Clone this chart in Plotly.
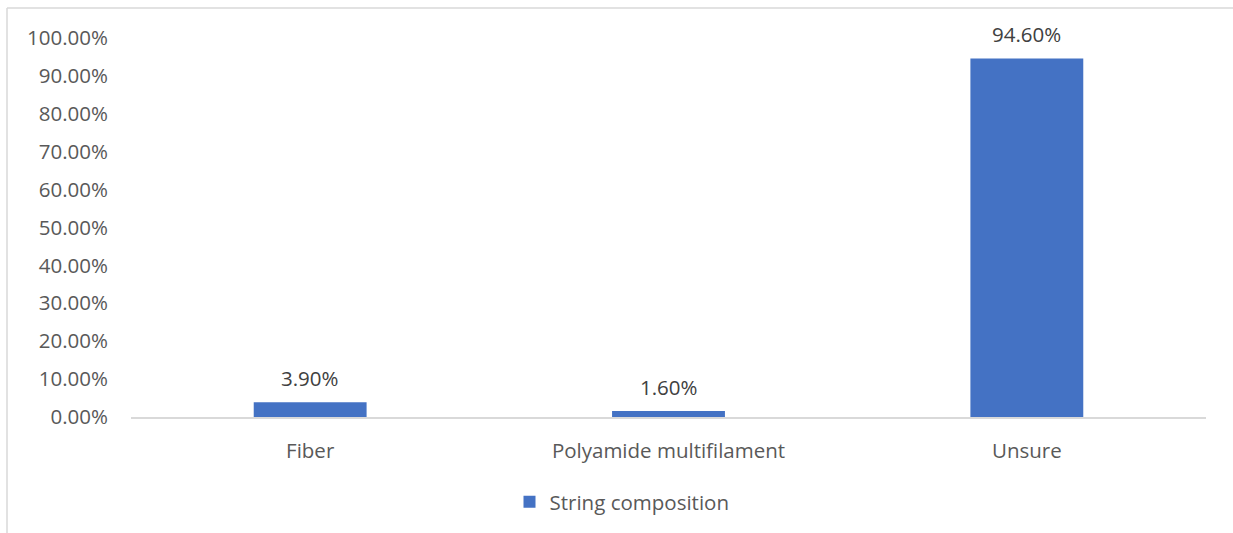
import plotly.graph_objects as go

categories = ["Fiber", "Polyamide multifilament", "Unsure"]
values = [0.039, 0.016, 0.946]
series_name = "String composition"
tick_vals = [i / 10 for i in range(11)]
tick_text = [f"{v * 100:.2f}%" for v in tick_vals]

W, H = 1233, 533
L, R, T, B = 131, 27, 38, 115
plot_w = W - L - R
plot_h = H - T - B

FONT = "Open Sans"
FS = 20.5
fig = go.Figure()
fig.add_trace(go.Bar(
    x=categories, y=values, name=series_name,
    marker=dict(color="#4472C4", line=dict(width=0)),
    width=0.315, showlegend=True,
))

annotations = []
for c, v in zip(categories, values):
    annotations.append(dict(
        x=c, y=v, xref="x", yref="y", text=f"{v * 100:.2f}%",
        showarrow=False, yanchor="bottom", yshift=8,
        font=dict(family=FONT, size=FS, color="#404040"),
    ))

# chart-area border (top and left edges visible)
bx = (7 - L) / plot_w
by = (H - B - 8) / plot_h
shapes = [
    dict(type="line", xref="paper", yref="paper", x0=bx, x1=(W - L) / plot_w + 0.01,
         y0=by, y1=by, line=dict(color="#d9d9d9", width=1.5)),
    dict(type="line", xref="paper", yref="paper", x0=bx, x1=bx,
         y0=by, y1=-(B + 5) / plot_h, line=dict(color="#d9d9d9", width=1.5)),
]

fig.update_layout(
    width=W, height=H,
    margin=dict(l=L, r=R, t=T, b=B),
    paper_bgcolor="white", plot_bgcolor="white",
    font=dict(family=FONT, size=FS, color="#595959"),
    bargap=0.685,
    xaxis=dict(
        showgrid=False, showline=True, linecolor="#d9d9d9", linewidth=1.5,
        ticks="", ticklabelstandoff=15, tickfont=dict(size=FS, color="#595959"),
    ),
    yaxis=dict(
        range=[0, 1.0], showgrid=False, zeroline=False, showline=False,
        tickvals=tick_vals, ticktext=tick_text, ticks="",
        ticklabelstandoff=22, tickfont=dict(size=FS, color="#595959"),
    ),
    legend=dict(
        orientation="h", x=(622 - L) / plot_w, xanchor="center",
        y=-(502 - (H - B)) / plot_h, yanchor="middle",
        font=dict(size=FS, color="#595959"), itemwidth=30,
    ),
    annotations=annotations,
    shapes=shapes,
)

fig.write_html("out.html")
